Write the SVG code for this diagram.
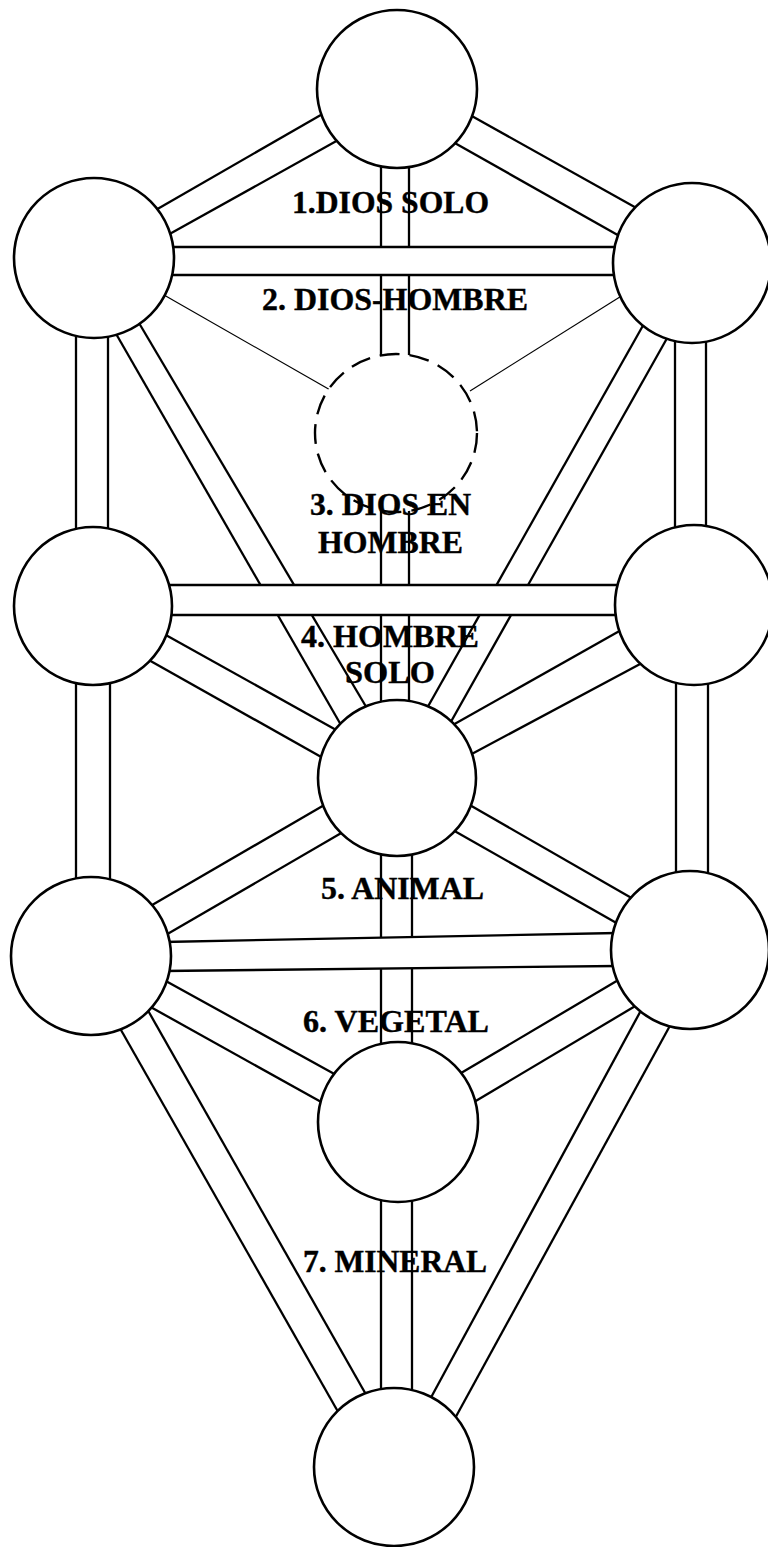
<svg xmlns="http://www.w3.org/2000/svg" width="768" height="1547" viewBox="0 0 768 1547">
<style>
.ln{stroke:#000;stroke-width:2.3;fill:none;stroke-linecap:butt}
.thin{stroke:#000;stroke-width:1.2;fill:none}
.bar{fill:#fff;stroke:none}
.nd{fill:#fff;stroke:#000;stroke-width:2.6}
.dash{fill:#fff;stroke:#000;stroke-width:2.4;stroke-dasharray:20 10}
.lb{font-family:"Liberation Serif","Times New Roman",serif;font-weight:bold;font-size:31px;fill:#000;stroke:#000;stroke-width:0.4}
</style>
<rect width="768" height="1547" fill="#fff"/>
<g id="connectors">
  <line class="ln" x1="154" y1="211" x2="326" y2="112"/>
  <line class="ln" x1="166" y1="236" x2="340" y2="139"/>
  <line class="ln" x1="470" y1="115" x2="640" y2="210"/>
  <line class="ln" x1="453" y1="142" x2="623" y2="238"/>
  <line class="ln" x1="381" y1="160" x2="381" y2="360"/>
  <line class="ln" x1="409" y1="160" x2="409" y2="360"/>
  <rect class="bar" x="170" y="247" width="448" height="28"/>
  <line class="ln" x1="168" y1="247" x2="620" y2="247"/>
  <line class="ln" x1="168" y1="275" x2="620" y2="275"/>
  <line class="thin" x1="164" y1="295" x2="332" y2="391"/>
  <line class="thin" x1="623" y1="295" x2="470" y2="391"/>
  <line class="ln" x1="76" y1="328" x2="76" y2="534"/>
  <line class="ln" x1="108" y1="328" x2="108" y2="534"/>
  <line class="ln" x1="675" y1="332" x2="675" y2="532"/>
  <line class="ln" x1="706" y1="332" x2="706" y2="532"/>
  <line class="ln" x1="115" y1="332" x2="341" y2="725"/>
  <line class="ln" x1="139" y1="323" x2="368" y2="710"/>
  <line class="ln" x1="670" y1="333" x2="448" y2="727"/>
  <line class="ln" x1="645" y1="322" x2="426" y2="710"/>
  <line class="ln" x1="381" y1="480" x2="381" y2="708"/>
  <line class="ln" x1="409" y1="480" x2="409" y2="708"/>
  <rect class="bar" x="168" y="585" width="454" height="30"/>
  <line class="ln" x1="166" y1="585" x2="624" y2="585"/>
  <line class="ln" x1="166" y1="615" x2="624" y2="615"/>
  <line class="ln" x1="164" y1="634" x2="338" y2="731"/>
  <line class="ln" x1="147" y1="659" x2="323" y2="758"/>
  <line class="ln" x1="623" y1="629" x2="451" y2="726"/>
  <line class="ln" x1="642" y1="663" x2="468" y2="756"/>
  <line class="ln" x1="76" y1="678" x2="76" y2="884"/>
  <line class="ln" x1="110" y1="678" x2="110" y2="884"/>
  <line class="ln" x1="676" y1="678" x2="676" y2="880"/>
  <line class="ln" x1="708" y1="678" x2="708" y2="880"/>
  <line class="ln" x1="381" y1="848" x2="381" y2="1052"/>
  <line class="ln" x1="412" y1="848" x2="412" y2="1052"/>
  <polygon class="bar" points="165,942 614,933 615,966 165,971"/>
  <line class="ln" x1="163" y1="942" x2="617" y2="933"/>
  <line class="ln" x1="163" y1="971" x2="617" y2="966"/>
  <line class="ln" x1="326" y1="804" x2="147" y2="908"/>
  <line class="ln" x1="343" y1="832" x2="164" y2="936"/>
  <line class="ln" x1="468" y1="804" x2="635" y2="900"/>
  <line class="ln" x1="451" y1="829" x2="620" y2="925"/>
  <line class="ln" x1="164" y1="980" x2="338" y2="1076"/>
  <line class="ln" x1="147" y1="1005" x2="323" y2="1103"/>
  <line class="ln" x1="620" y1="979" x2="456" y2="1076"/>
  <line class="ln" x1="637" y1="1005" x2="469" y2="1105"/>
  <line class="ln" x1="117" y1="1023" x2="341" y2="1417"/>
  <line class="ln" x1="146" y1="1007" x2="368" y2="1398"/>
  <line class="ln" x1="672" y1="1022" x2="453" y2="1422"/>
  <line class="ln" x1="645" y1="1003" x2="428" y2="1403"/>
  <line class="ln" x1="381" y1="1195" x2="381" y2="1395"/>
  <line class="ln" x1="412" y1="1195" x2="412" y2="1395"/>
</g>
<g id="kether"><ellipse class="nd" cx="397" cy="89" rx="80" ry="79"/></g>
<g id="binah"><ellipse class="nd" cx="94" cy="258" rx="80" ry="80"/></g>
<g id="chokmah"><ellipse class="nd" cx="692" cy="263" rx="79" ry="80"/></g>
<g id="daath"><ellipse class="dash" cx="396" cy="433" rx="81" ry="79"/></g>
<g id="geburah"><ellipse class="nd" cx="93" cy="606" rx="79" ry="79"/></g>
<g id="chesed"><ellipse class="nd" cx="694" cy="605" rx="79" ry="80"/></g>
<g id="tiphareth"><ellipse class="nd" cx="397" cy="778" rx="79" ry="78"/></g>
<g id="hod"><ellipse class="nd" cx="91" cy="956" rx="80" ry="79"/></g>
<g id="netzach"><ellipse class="nd" cx="690" cy="950" rx="79" ry="79"/></g>
<g id="yesod"><ellipse class="nd" cx="398" cy="1122" rx="80" ry="80"/></g>
<g id="malkuth"><ellipse class="nd" cx="394" cy="1467" rx="80" ry="79"/></g>
<g id="labels">
  <text class="lb" x="292" y="213" textLength="197" lengthAdjust="spacingAndGlyphs">1.DIOS SOLO</text>
  <text class="lb" x="262" y="310" textLength="266" lengthAdjust="spacingAndGlyphs">2. DIOS-HOMBRE</text>
  <text class="lb" x="310" y="515" textLength="161" lengthAdjust="spacingAndGlyphs">3. DIOS EN</text>
  <text class="lb" x="318" y="553" textLength="145" lengthAdjust="spacingAndGlyphs">HOMBRE</text>
  <text class="lb" x="301" y="647" textLength="178" lengthAdjust="spacingAndGlyphs">4. HOMBRE</text>
  <text class="lb" x="345" y="683" textLength="90" lengthAdjust="spacingAndGlyphs">SOLO</text>
  <text class="lb" x="321" y="899" textLength="163" lengthAdjust="spacingAndGlyphs">5. ANIMAL</text>
  <text class="lb" x="303" y="1032" textLength="186" lengthAdjust="spacingAndGlyphs">6. VEGETAL</text>
  <text class="lb" x="303" y="1272" textLength="184" lengthAdjust="spacingAndGlyphs">7. MINERAL</text>
</g>
</svg>
